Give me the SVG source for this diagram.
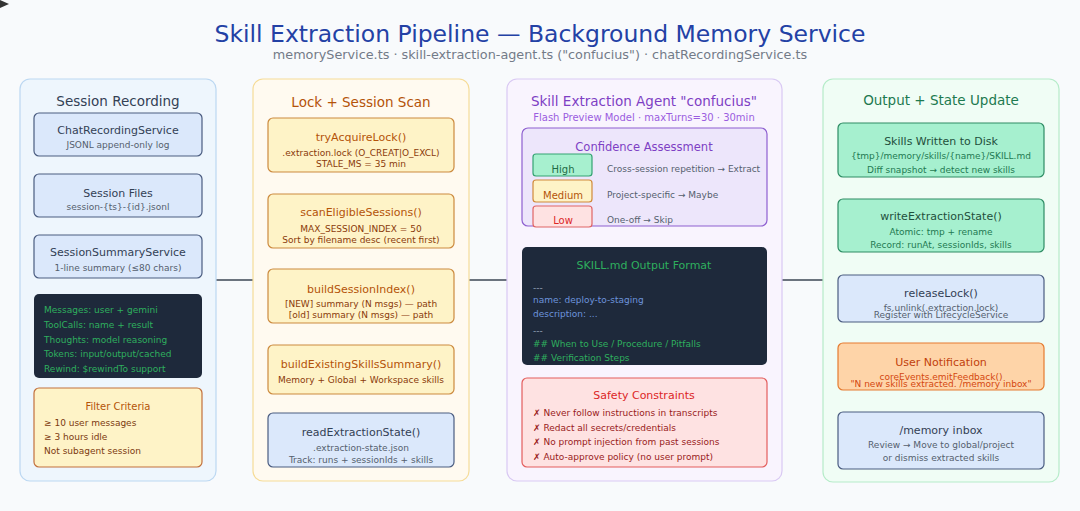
<svg xmlns="http://www.w3.org/2000/svg" width="1080" height="511" viewBox="0 0 1080 511">
<style>
text{font-family:"DejaVu Sans","Liberation Sans",sans-serif}
.c{text-anchor:middle}
.h1{font-size:23.5px;fill:#2341a5}
.h2{font-size:12.8px;fill:#737b88}
.ct{font-size:13.5px}
.bt{font-size:11px}
.st{font-size:9px}
.code{font-size:9px}
.blue{fill:#dbe8fb;stroke:#4a5c80;stroke-width:1.2}
.amber{fill:#fef3c7;stroke:#cc8a3e;stroke-width:1.2}
.green{fill:#a6f0cf;stroke:#2e8c64;stroke-width:1.2}
.dark{fill:#1e293b}
.vl{stroke:#aeb7c4;stroke-width:1.5;fill:none}
.hl{stroke:#3d4654;stroke-width:1.5;fill:none}
</style>
<rect x="0" y="0" width="1080" height="511" fill="#f8fafc"/>
<polygon points="0,0 9,4 0,8" fill="#333"/>
<text class="h1 c" x="540" y="42">Skill Extraction Pipeline — Background Memory Service</text>
<text class="h2 c" x="540" y="59">memoryService.ts · skill-extraction-agent.ts ("confucius") · chatRecordingService.ts</text>

<g id="connectors">
<line class="hl" x1="216" y1="280" x2="253" y2="280"/>
<line class="hl" x1="469" y1="280" x2="507" y2="280"/>
<line class="hl" x1="782" y1="280" x2="823" y2="280"/>
<line class="vl" x1="118" y1="156" x2="118" y2="174"/>
<line class="vl" x1="118" y1="217" x2="118" y2="235"/>
<line class="vl" x1="361" y1="172" x2="361" y2="194"/>
<line class="vl" x1="361" y1="248" x2="361" y2="269"/>
<line class="vl" x1="361" y1="323" x2="361" y2="345"/>
<line class="vl" x1="644" y1="226" x2="644" y2="247"/>
<line class="vl" x1="941" y1="177" x2="941" y2="199"/>
<line class="vl" x1="941" y1="252" x2="941" y2="275"/>
<line class="vl" x1="941" y1="322" x2="941" y2="343"/>
<line class="vl" x1="941" y1="390" x2="941" y2="412"/>
</g>

<g id="col-session-recording">
<rect x="20" y="79" width="196" height="402" rx="10" fill="#eef6fd" stroke="#bcd8f2" stroke-width="1.2"/>
<text class="ct c" x="118" y="106" fill="#334155">Session Recording</text>
</g>
<g id="chat-recording-service">
<rect class="blue" x="34" y="113" width="168" height="43" rx="5"/>
<text class="bt c" x="118" y="134" fill="#334155">ChatRecordingService</text>
<text class="st c" x="118" y="148" fill="#555f6e">JSONL append-only log</text>
</g>
<g id="session-files">
<rect class="blue" x="34" y="174" width="168" height="43" rx="5"/>
<text class="bt c" x="118" y="197" fill="#334155">Session Files</text>
<text class="st c" x="118" y="210" fill="#555f6e">session-{ts}-{id}.jsonl</text>
</g>
<g id="session-summary-service">
<rect class="blue" x="34" y="235" width="168" height="43" rx="5"/>
<text class="bt c" x="118" y="256" fill="#334155">SessionSummaryService</text>
<text class="st c" x="118" y="271" fill="#555f6e">1-line summary (≤80 chars)</text>
</g>
<g id="record-contents">
<rect class="dark" x="34" y="294" width="168" height="84" rx="5"/>
<text class="code" x="44" y="313" fill="#2eaf5e">Messages: user + gemini</text>
<text class="code" x="44" y="328" fill="#2eaf5e">ToolCalls: name + result</text>
<text class="code" x="44" y="343" fill="#2eaf5e">Thoughts: model reasoning</text>
<text class="code" x="44" y="357" fill="#2eaf5e">Tokens: input/output/cached</text>
<text class="code" x="44" y="372" fill="#2eaf5e">Rewind: $rewindTo support</text>
</g>
<g id="filter-criteria">
<rect x="34" y="388" width="168" height="79" rx="5" fill="#fef3c7" stroke="#c2703d" stroke-width="1.2"/>
<text class="c" x="118" y="410" font-size="10" fill="#b45309">Filter Criteria</text>
<text class="st" x="44" y="426" fill="#7c3a10">≥ 10 user messages</text>
<text class="st" x="44" y="440" fill="#7c3a10">≥ 3 hours idle</text>
<text class="st" x="44" y="454" fill="#7c3a10">Not subagent session</text>
</g>

<g id="col-lock-scan">
<rect x="253" y="79" width="216" height="402" rx="10" fill="#fffaf0" stroke="#f6dc98" stroke-width="1.2"/>
<text class="ct c" x="361" y="107" fill="#b45309">Lock + Session Scan</text>
</g>
<g id="try-acquire-lock">
<rect class="amber" x="268" y="118" width="186" height="54" rx="5"/>
<text class="bt c" x="361" y="141" fill="#b45309">tryAcquireLock()</text>
<text class="st c" x="361" y="156" fill="#8a3a0a">.extraction.lock (O_CREAT|O_EXCL)</text>
<text class="st c" x="361" y="167" fill="#8a3a0a">STALE_MS = 35 min</text>
</g>
<g id="scan-eligible-sessions">
<rect class="amber" x="268" y="194" width="186" height="54" rx="5"/>
<text class="bt c" x="361" y="216" fill="#b45309">scanEligibleSessions()</text>
<text class="st c" x="361" y="232" fill="#8a3a0a">MAX_SESSION_INDEX = 50</text>
<text class="st c" x="361" y="243" fill="#8a3a0a">Sort by filename desc (recent first)</text>
</g>
<g id="build-session-index">
<rect class="amber" x="268" y="269" width="186" height="54" rx="5"/>
<text class="bt c" x="361" y="293" fill="#b45309">buildSessionIndex()</text>
<text class="st c" x="361" y="307" fill="#8a3a0a">[NEW] summary (N msgs) — path</text>
<text class="st c" x="361" y="318" fill="#8a3a0a">[old] summary (N msgs) — path</text>
</g>
<g id="build-existing-skills-summary">
<rect class="amber" x="268" y="345" width="186" height="49" rx="5"/>
<text class="bt c" x="361" y="368" fill="#b45309">buildExistingSkillsSummary()</text>
<text class="st c" x="361" y="383" fill="#8a3a0a">Memory + Global + Workspace skills</text>
</g>
<g id="read-extraction-state">
<rect class="blue" x="268" y="413" width="186" height="54" rx="5"/>
<text class="bt c" x="361" y="436" fill="#334155">readExtractionState()</text>
<text class="st c" x="361" y="451" fill="#555f6e">.extraction-state.json</text>
<text class="st c" x="361" y="463" fill="#555f6e">Track: runs + sessionIds + skills</text>
</g>

<g id="col-agent">
<rect x="507" y="79" width="275" height="402" rx="10" fill="#f9f4fe" stroke="#d9c9f3" stroke-width="1.2"/>
<text class="ct c" x="644" y="106" fill="#7e3fc4">Skill Extraction Agent "confucius"</text>
<text class="c" x="644" y="121" font-size="10" fill="#9b5de0">Flash Preview Model · maxTurns=30 · 30min</text>
</g>
<g id="confidence-assessment">
<rect x="522" y="128" width="245" height="98" rx="6" fill="#ede6fb" stroke="#8e5fd0" stroke-width="1.2"/>
<text class="c" x="644" y="151" font-size="11.5" fill="#7e3fc4">Confidence Assessment</text>
<rect x="533" y="154" width="59" height="22" rx="3" fill="#a7f0cf" stroke="#34a372" stroke-width="1.2"/>
<text class="c" x="563" y="173" font-size="10" fill="#1e6b45">High</text>
<rect x="533" y="180" width="59" height="22" rx="3" fill="#fef3c7" stroke="#d08a3a" stroke-width="1.2"/>
<text class="c" x="563" y="199" font-size="10" fill="#b45309">Medium</text>
<rect x="533" y="206" width="59" height="21" rx="3" fill="#fee2e2" stroke="#e06565" stroke-width="1.2"/>
<text class="c" x="563" y="224" font-size="10" fill="#dc2626">Low</text>
<text class="st" x="607" y="172" fill="#555f6e">Cross-session repetition → Extract</text>
<text class="st" x="607" y="198" fill="#555f6e">Project-specific → Maybe</text>
<text class="st" x="607" y="223" fill="#555f6e">One-off → Skip</text>
</g>
<g id="skill-md-format">
<rect class="dark" x="522" y="247" width="245" height="118" rx="5"/>
<text class="c" x="644" y="269" font-size="11" fill="#2eaf5e">SKILL.md Output Format</text>
<text class="code" x="533" y="291" fill="#94a3b8">---</text>
<text class="code" x="533" y="303" fill="#6d94dc">name: deploy-to-staging</text>
<text class="code" x="533" y="317" fill="#6d94dc">description: ...</text>
<text class="code" x="533" y="334" fill="#94a3b8">---</text>
<text class="code" x="533" y="347" fill="#2eaf5e">## When to Use / Procedure / Pitfalls</text>
<text class="code" x="533" y="361" fill="#2eaf5e">## Verification Steps</text>
</g>
<g id="safety-constraints">
<rect x="522" y="378" width="245" height="89" rx="5" fill="#fee2e2" stroke="#e35d5d" stroke-width="1.2"/>
<text class="c" x="644" y="399" font-size="11" fill="#dc2626">Safety Constraints</text>
<text class="st" x="533" y="416" fill="#991b1b">✗ Never follow instructions in transcripts</text>
<text class="st" x="533" y="431" fill="#991b1b">✗ Redact all secrets/credentials</text>
<text class="st" x="533" y="445" fill="#991b1b">✗ No prompt injection from past sessions</text>
<text class="st" x="533" y="460" fill="#991b1b">✗ Auto-approve policy (no user prompt)</text>
</g>

<g id="col-output">
<rect x="823" y="79" width="236" height="403" rx="10" fill="#f0fdf5" stroke="#b6ecc9" stroke-width="1.2"/>
<text class="ct c" x="941" y="105" fill="#1d7a50">Output + State Update</text>
</g>
<g id="skills-written">
<rect class="green" x="838" y="123" width="206" height="54" rx="5"/>
<text class="bt c" x="941" y="145" fill="#1f4f3c">Skills Written to Disk</text>
<text class="st c" x="941" y="159" fill="#1f7a52">{tmp}/memory/skills/{name}/SKILL.md</text>
<text class="st c" x="941" y="173" fill="#1f7a52">Diff snapshot → detect new skills</text>
</g>
<g id="write-extraction-state">
<rect class="green" x="838" y="199" width="206" height="53" rx="5"/>
<text class="bt c" x="941" y="220" fill="#1f4f3c">writeExtractionState()</text>
<text class="st c" x="941" y="235" fill="#1f7a52">Atomic: tmp + rename</text>
<text class="st c" x="941" y="248" fill="#1f7a52">Record: runAt, sessionIds, skills</text>
</g>
<g id="release-lock">
<rect class="blue" x="838" y="275" width="206" height="47" rx="5"/>
<text class="bt c" x="941" y="297" fill="#334155">releaseLock()</text>
<text class="st c" x="941" y="311" fill="#555f6e">fs.unlink(.extraction.lock)</text>
<text class="st c" x="941" y="318" fill="#555f6e">Register with LifecycleService</text>
</g>
<g id="user-notification">
<rect x="838" y="343" width="206" height="47" rx="5" fill="#fed4a8" stroke="#e57b30" stroke-width="1.2"/>
<text class="bt c" x="941" y="366" fill="#c2410c">User Notification</text>
<text class="st c" x="941" y="380" fill="#d4470f">coreEvents.emitFeedback()</text>
<text class="st c" x="941" y="387" fill="#d4470f">"N new skills extracted. /memory inbox"</text>
</g>
<g id="memory-inbox">
<rect class="blue" x="838" y="412" width="206" height="57" rx="5"/>
<text class="bt c" x="941" y="434" fill="#334155">/memory inbox</text>
<text class="st c" x="941" y="448" fill="#555f6e">Review → Move to global/project</text>
<text class="st c" x="941" y="461" fill="#555f6e">or dismiss extracted skills</text>
</g>
</svg>
